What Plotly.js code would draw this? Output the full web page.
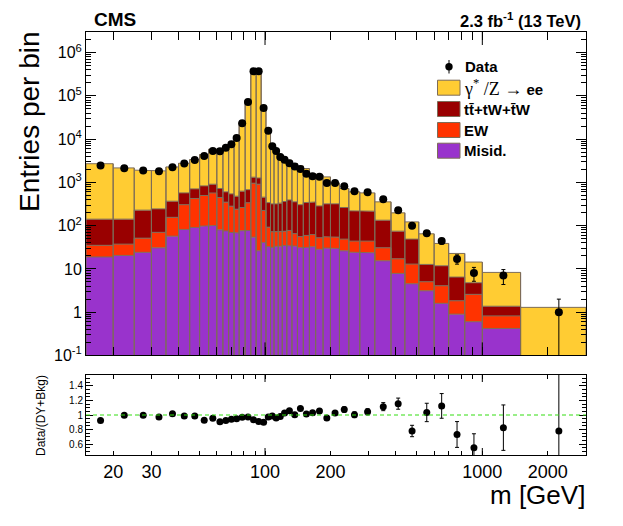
<!DOCTYPE html>
<html><head><meta charset="utf-8">
<script src="https://cdn.plot.ly/plotly-3.0.1.min.js"></script>
<style>html,body{margin:0;padding:0;background:#fff;}#chart{width:623px;height:526px;}</style>
</head><body><div id="chart"></div>
<script>
// ---------- data ----------
const binEdges = [15,20,25,30,35,40,45,50,55,60,64,68,72,76,81,86,91,96,101,106,110,115,120,126,133,141,150,160,171,185,200,220,243,273,320,380,440,510,600,700,830,1000,1500,3000];
const misid = [18.9,20.5,24.2,30.7,57.2,81.7,90.8,97.3,101,80,75.5,70,67.8,75.9,77.4,54.2,26.2,40.5,32.7,31.4,33.1,33.6,34.9,34.5,33.6,30.7,31.6,32.4,28.4,30.5,29.7,26.2,24.4,23.5,15.4,7.87,4.53,3.12,1.60,0.90,0.60,0.42,0];
const ew = [16.2,16.9,27.2,39.3,98.4,223,334,401,468,368,274,212,172,187,259,904,882,184,59.6,40.5,38.8,39.8,39.7,42.9,31.7,25.0,27.8,29.5,23.9,24.6,24.5,22.6,19.5,20.4,15.3,9.2,8.4,1.92,2.47,0.93,1.98,0.40,0];
const ttbar = [106,104,177,174,212,267,283,332,339,275,255,260,240,364,342,360,356,231,248,247,246,258,287,315,290,249,281,290,233,264,265,214,176,172,103,57.5,35.9,7.66,7.73,4.64,2.20,0.55,0];
const dy = [2560,2020,1690,1600,1910,2200,2670,3580,4940,5120,6360,8070,11380,24320,78400,409700,409700,57000,17240,7306,5750,4150,3518,2866,2376,2100,1754,1254,1181,1021,654,460,384,356,221,123,73.2,52.0,27.0,16.3,9.62,6.92,1.29];
const dataCounts = [2455,2128,1884,1815,2244,2731,3311,4093,5336,5260,6325,7621,10600,23300,72600,370000,370000,52600,15630,6855,5336,3881,3327,2775,2328,2049,1589,1390,1355,973,969,809,627,594,405,228,99,67,44,17,8,7,1];
const ratioValues = [0.923,0.995,0.995,0.973,1.017,0.987,0.987,0.928,0.954,0.906,0.923,0.941,0.950,0.968,0.973,0.933,0.910,0.901,0.973,0.987,0.960,0.981,1.027,1.058,1.004,1.089,1.013,1.031,1.054,0.960,1.027,1.075,1.004,1.044,1.115,1.156,0.780,1.035,1.125,0.732,0.548,0.826,0.780];
const xTickVals = [20,30,100,200,1000,2000];
const xTickText = ['20','30','100','200','1000','2000'];
const yTickVals = [0.1,1,10,100,1e3,1e4,1e5,1e6];
const yTickText = ['10<sup>-1</sup>','1','10','10<sup>2</sup>','10<sup>3</sup>','10<sup>4</sup>','10<sup>5</sup>','10<sup>6</sup>'];
const rTickVals = [0.6,0.8,1,1.2,1.4];
const rTickText = ['0.6','0.8','1','1.2','1.4'];
const legendLabels = ['<b>Data</b>',
  '<span style="font-family:Liberation Serif;font-size:18px;font-weight:normal">γ<sup>*</sup> /Z →</span> <b>ee</b>',
  '<b>tt̄+tW+t̄W</b>','<b>EW</b>','<b>Misid.</b>'];

// ---------- style ----------
const colDY='#ffcc33', colTT='#990000', colEW='#ff3300', colMis='#9933cc', edgeCol='#7d6c58';
const FONT='Liberation Sans, Arial, Helvetica, sans-serif';
const W=623,H=526,ML=86,MR=37,MT=32,MB=71;
const PW=W-ML-MR, PH=H-MT-MB;
const mainBot=(455-355.4)/PH, ratioTop=(455-375)/PH;
const xmin=Math.log10(15), xmax=Math.log10(3000);
const px2x=p=>(p-ML)/PW, py2y=p=>(H-MB-p)/PH;
const lx=v=>(Math.log10(v)-xmin)/(xmax-xmin);
const BASE=1e-3;

// ---------- stacked histogram (step polygons) ----------
const n=dy.length;
const layers=[misid,ew,ttbar,dy];
const layerCols=[colMis,colEW,colTT,colDY];
const layerNames=['Misid.','EW','tt̄+tW+t̄W','γ*/Z → ee'];
const cum=[]; let run=new Array(n).fill(0);
layers.forEach(a=>{run=run.map((v,i)=>v+a[i]); cum.push(run.slice());});
function step(vals){const x=[],y=[];for(let i=0;i<n;i++){const v=Math.max(vals[i],BASE);x.push(binEdges[i],binEdges[i+1]);y.push(v,v);}return {x,y};}
const traces=[];
traces.push({x:[15,3000],y:[BASE,BASE],mode:'lines',line:{width:0},hoverinfo:'skip',showlegend:false,xaxis:'x',yaxis:'y'});
cum.forEach((c,k)=>{const s=step(c);traces.push({x:s.x,y:s.y,mode:'lines',fill:'tonexty',fillcolor:layerCols[k],line:{color:edgeCol,width:1},name:layerNames[k],showlegend:false,xaxis:'x',yaxis:'y'});});
// bin outlines (vertical edges)
const tot=cum[cum.length-1];
const ox=[],oy=[];
for(let i=0;i<n;i++){ox.push(binEdges[i],binEdges[i],null,binEdges[i+1],binEdges[i+1],null);oy.push(BASE,tot[i],null,BASE,tot[i],null);}
traces.push({x:ox,y:oy,mode:'lines',line:{color:edgeCol,width:1},connectgaps:false,hoverinfo:'skip',showlegend:false,xaxis:'x',yaxis:'y'});
// data
const centers=binEdges.slice(0,n).map((e,i)=>(e+binEdges[i+1])/2);
const errs=dataCounts.map(v=>Math.sqrt(v));
traces.push({x:centers,y:dataCounts,mode:'markers',marker:{color:'black',size:8},
  error_y:{type:'data',array:errs,arrayminus:errs.map((e,i)=>Math.min(e,dataCounts[i]*0.9999)),color:'black',thickness:1,width:2},
  name:'Data',showlegend:false,xaxis:'x',yaxis:'y'});
// ratio
traces.push({x:centers,y:ratioValues,mode:'markers',marker:{color:'black',size:7},
  error_y:{type:'data',array:ratioValues.map((r,i)=>r/Math.sqrt(dataCounts[i])),color:'black',thickness:1,width:2},
  showlegend:false,xaxis:'x2',yaxis:'y2'});

// ---------- ticks ----------
const xMinor=[];[10,100,1000].forEach(d=>{for(let k=2;k<=9;k++){const v=k*d;if(v>15&&v<3000&&xTickVals.indexOf(v)<0&&v!==100&&v!==1000)xMinor.push(v);}});
const yMinor=[];for(let d=-1;d<=6;d++){for(let k=2;k<=9;k++){const v=k*Math.pow(10,d);if(v<3e6)yMinor.push(v);}}
const axBase={showgrid:false,zeroline:false,showline:true,linecolor:'black',linewidth:1,mirror:'allticks',ticks:'inside',tickcolor:'black',tickfont:{family:FONT,size:16,color:'black'}};
const layout={
  width:W,height:H,margin:{l:ML,r:MR,t:MT,b:MB},paper_bgcolor:'white',plot_bgcolor:'white',showlegend:false,
  font:{family:FONT,color:'black'},
  xaxis:Object.assign({},axBase,{type:'log',range:[xmin,xmax],anchor:'y',tickmode:'array',tickvals:xTickVals,ticktext:xTickText,showticklabels:false,ticklen:8,
    minor:{tickmode:'array',tickvals:xMinor,ticks:'inside',ticklen:8,tickcolor:'black'}}),
  yaxis:Object.assign({},axBase,{type:'log',range:[-1,Math.log10(3e6)],domain:[mainBot,1],anchor:'x',tickmode:'array',tickvals:yTickVals,ticktext:yTickText,ticklen:10,
    minor:{tickmode:'array',tickvals:yMinor,ticks:'inside',ticklen:5,tickcolor:'black'}}),
  xaxis2:Object.assign({},axBase,{type:'log',range:[xmin,xmax],anchor:'y2',matches:'x',tickmode:'array',tickvals:xTickVals,ticktext:xTickText,ticklen:4,tickfont:{family:FONT,size:18,color:'black'},
    minor:{tickmode:'array',tickvals:xMinor,ticks:'inside',ticklen:4,tickcolor:'black'}}),
  yaxis2:Object.assign({},axBase,{range:[0.45,1.55],domain:[0,ratioTop],anchor:'x2',tickmode:'array',tickvals:rTickVals,ticktext:rTickText,ticklen:7,tickfont:{family:FONT,size:10,color:'black'},
    minor:{tick0:0,dtick:0.05,ticks:'inside',ticklen:4,tickcolor:'black'}}),
  shapes:[],annotations:[]
};
// long ticks at 100 and 1000
[100,1000].forEach(v=>{
  const xp=lx(v);
  layout.shapes.push({type:'line',xref:'paper',yref:'paper',x0:xp,x1:xp,y0:mainBot,y1:mainBot+13/PH,line:{color:'black',width:1}});
  layout.shapes.push({type:'line',xref:'paper',yref:'paper',x0:xp,x1:xp,y0:1,y1:1-13/PH,line:{color:'black',width:1}});
  layout.shapes.push({type:'line',xref:'paper',yref:'paper',x0:xp,x1:xp,y0:0,y1:7/PH,line:{color:'black',width:1}});
  layout.shapes.push({type:'line',xref:'paper',yref:'paper',x0:xp,x1:xp,y0:ratioTop,y1:ratioTop-7/PH,line:{color:'black',width:1}});
});
// unity line in ratio
layout.shapes.push({type:'line',xref:'x2 domain',yref:'y2',x0:0,x1:1,y0:1,y1:1,line:{color:'#33dd11',width:1,dash:'4px,3px'}});
// legend
layout.shapes.push({type:'circle',xref:'paper',yref:'paper',x0:px2x(449-3.7),x1:px2x(449+3.7),y0:py2y(66.7+3.7),y1:py2y(66.7-3.7),fillcolor:'black',line:{width:0}});
layout.shapes.push({type:'line',xref:'paper',yref:'paper',x0:px2x(449),x1:px2x(449),y0:py2y(60),y1:py2y(73.5),line:{color:'black',width:1}});
const rows=[87.7,109,130,150.7];
const boxCols=[colDY,colTT,colEW,colMis];
rows.forEach((r,k)=>{
  layout.shapes.push({type:'rect',xref:'paper',yref:'paper',x0:px2x(437.5),x1:px2x(460),y0:py2y(r+7.5),y1:py2y(r-7.5),fillcolor:boxCols[k],line:{color:edgeCol,width:1}});
});
const ann=(text,px,py,xa,size,extra)=>Object.assign({text:text,xref:'paper',yref:'paper',x:px2x(px),y:py2y(py),xanchor:xa,yanchor:'middle',showarrow:false,font:{family:FONT,size:size,color:'black'}},extra||{});
layout.annotations.push(ann(legendLabels[0],463,66.7,'left',15));
rows.forEach((r,k)=>layout.annotations.push(ann(legendLabels[k+1],462,r,'left',15)));
layout.annotations.push(ann('<b>CMS</b>',92,19.5,'left',19));
layout.annotations.push(ann('<b>2.3 fb<sup>-1</sup> (13 TeV)</b>',583,20,'right',16.5));
layout.annotations.push(ann('Entries per bin',30,122,'center',28,{textangle:-90}));
layout.annotations.push(ann('Data/(DY+Bkg)',41,416,'center',12,{textangle:-90}));
layout.annotations.push(ann('m [GeV]',587,495,'right',26));

Plotly.newPlot('chart',traces,layout,{staticPlot:true,displayModeBar:false});
</script></body></html>
